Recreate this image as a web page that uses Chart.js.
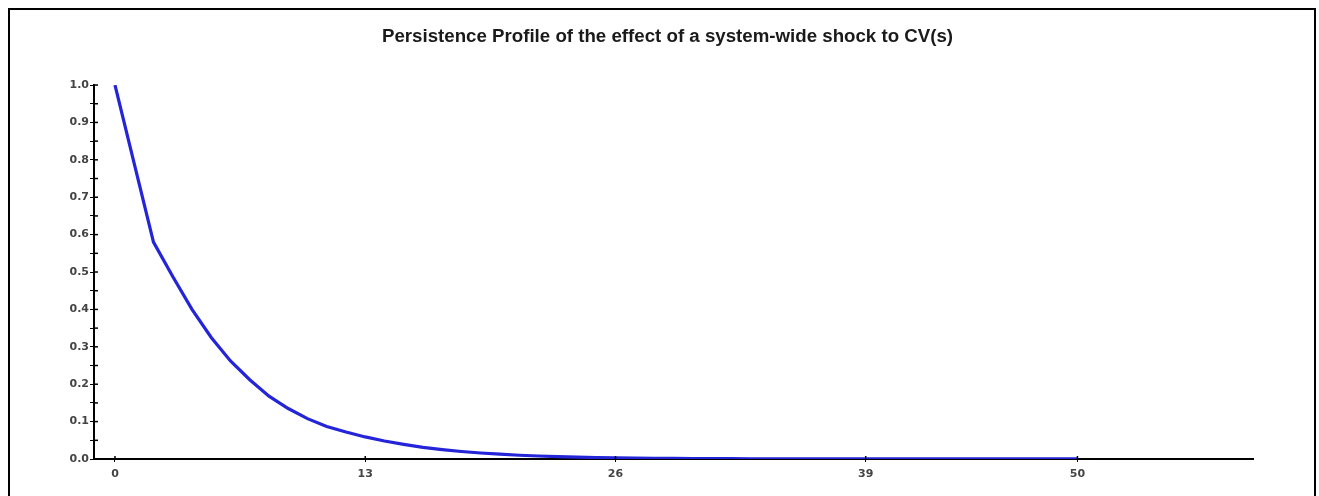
<!DOCTYPE html>
<html>
<head>
<meta charset="utf-8">
<script src="https://cdn.jsdelivr.net/npm/chart.js@4"></script>
<style>
  body { margin: 0; background: #fff; }
  #frame {
    position: absolute; left: 8px; top: 8px;
    width: 1304px; height: 486px;
    border: 2px solid #000; border-bottom: none;
  }
</style>
</head>
<body>
<div id="frame"><canvas id="chartPersistence"></canvas></div>
<script>
// persistence profile, horizons 0..50
const profile = [
  1.000, 0.790, 0.580, 0.488, 0.400, 0.325, 0.262, 0.212, 0.168, 0.135,
  0.108, 0.087, 0.072, 0.059, 0.048, 0.039, 0.031, 0.025, 0.020, 0.016,
  0.013, 0.010, 0.008, 0.0065, 0.005, 0.004, 0.003, 0.0025, 0.002, 0.0016,
  0.0013, 0.001, 0.0008, 0.0006, 0.0005, 0.0004, 0.0003, 0.0003, 0.0002, 0.0002,
  0.0001, 0.0001, 0.0001, 0.0001, 0.0001, 0.0001, 0.0001, 0.0001, 0.0001, 0.0001,
  0.0001
];
const xTicks = [0, 13, 26, 39, 50];
const yTicks = [0.0, 0.1, 0.2, 0.3, 0.4, 0.5, 0.6, 0.7, 0.8, 0.9, 1.0];
const yMinorTicks = [0.05, 0.15, 0.25, 0.35, 0.45, 0.55, 0.65, 0.75, 0.85, 0.95];

const points = profile.map((v, i) => ({ x: i, y: v }));

// tick marks also on the inner side of the axes
const crossTicks = {
  id: 'crossTicks',
  afterLayout(chart) {
    // centre the title a bit to the right, over the plot like the original
    const t = chart.titleBlock;
    if (t) {
      t.left = chart.chartArea.left - 12;
      t.right = chart.chartArea.right;
    }
  },
  afterDatasetsDraw(chart) {
    const ctx = chart.ctx;
    const xs = chart.scales.x, ys = chart.scales.y;
    const area = chart.chartArea;
    ctx.save();
    ctx.strokeStyle = '#000';
    ctx.lineWidth = 1.5;
    ys.ticks.forEach(t => {
      const py = ys.getPixelForValue(t.value);
      ctx.beginPath();
      ctx.moveTo(area.left, py);
      ctx.lineTo(area.left + 4, py);
      ctx.stroke();
    });
    xs.ticks.forEach(t => {
      const px = xs.getPixelForValue(t.value);
      ctx.beginPath();
      ctx.moveTo(px, area.bottom);
      ctx.lineTo(px, area.bottom - 3);
      ctx.stroke();
    });
    ctx.restore();
  }
};

const tickFont = { family: 'DejaVu Sans', size: 11, weight: 'bold' };

new Chart(document.getElementById('chartPersistence'), {
  type: 'line',
  data: {
    datasets: [{
      data: points,
      borderColor: '#2424d8',
      borderWidth: 3.2,
      pointRadius: 0,
      fill: false,
      tension: 0
    }]
  },
  options: {
    responsive: true,
    maintainAspectRatio: false,
    animation: false,
    layout: { padding: { left: 0, right: 61, top: 0, bottom: 0 } },
    plugins: {
      legend: { display: false },
      tooltip: { enabled: false },
      title: {
        display: true,
        text: 'Persistence Profile of the effect of a system-wide shock to CV(s)',
        color: '#1a1a1a',
        font: { family: 'Liberation Sans', size: 18.7, weight: 'bold' },
        padding: { top: 16, bottom: 36.6 }
      }
    },
    scales: {
      x: {
        type: 'linear',
        min: -1.09,
        max: 59.12,
        afterBuildTicks: (scale) => { scale.ticks = xTicks.map(v => ({ value: v })); },
        afterFit: (scale) => { scale.height = 37; },
        grid: { drawOnChartArea: false, drawTicks: true, tickLength: 3, color: '#000' },
        border: { display: true, color: '#000', width: 2 },
        ticks: {
          color: '#444',
          font: tickFont,
          padding: 6,
          maxRotation: 0,
          autoSkip: false,
          callback: (v) => String(v)
        }
      },
      y: {
        min: 0,
        max: 1.0,
        afterBuildTicks: (scale) => {
          scale.ticks = yTicks.concat(yMinorTicks).sort((a, b) => a - b).map(v => ({ value: v }));
        },
        afterFit: (scale) => { scale.width = 84; },
        grid: { drawOnChartArea: false, drawTicks: true, tickLength: 4, color: '#000' },
        border: { display: true, color: '#000', width: 2 },
        ticks: {
          color: '#444',
          font: tickFont,
          padding: 1,
          autoSkip: false,
          callback: (v) => yTicks.some(t => Math.abs(t - v) < 1e-9) ? v.toFixed(1) : ''
        }
      }
    }
  },
  plugins: [crossTicks]
});
</script>
</body>
</html>
